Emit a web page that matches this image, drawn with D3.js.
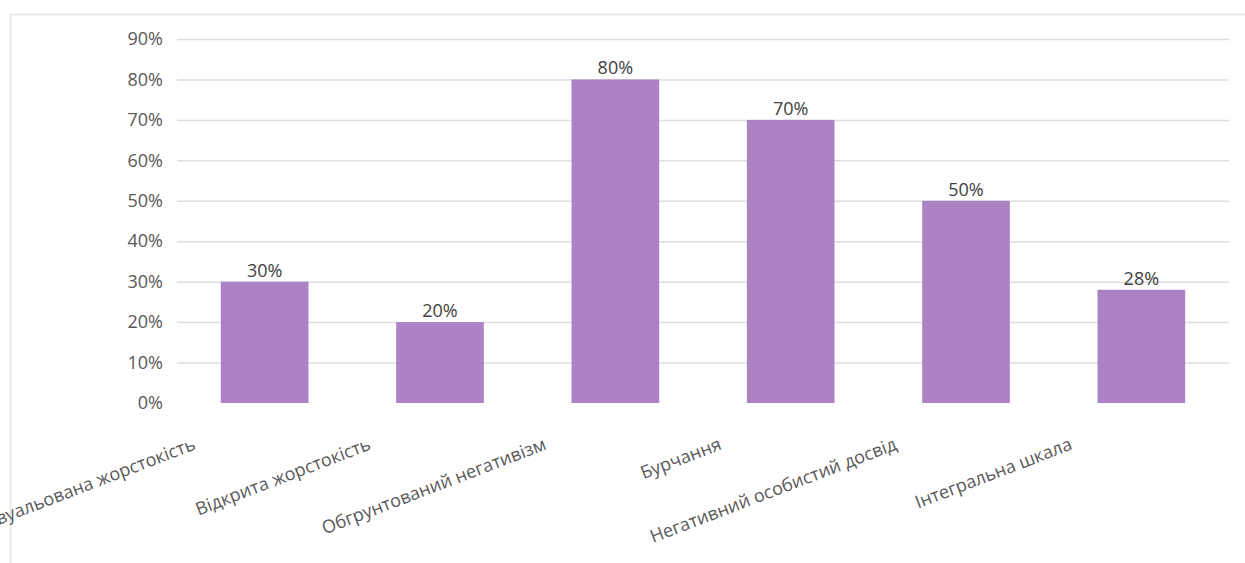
<!DOCTYPE html>
<html>
<head>
<meta charset="utf-8">
<script src="https://cdn.jsdelivr.net/npm/d3@7/dist/d3.min.js"></script>
<style>
  html, body { margin: 0; padding: 0; background: #ffffff; }
  svg { display: block; }
  text { font-family: "Open Sans", Lato, sans-serif; }
</style>
</head>
<body>
<div id="chart"></div>
<script>
// Scale categories and their shares
const categories = [
  "Завуальована жорстокість",
  "Відкрита жорстокість",
  "Обгрунтований негативізм",
  "Бурчання",
  "Негативний особистий досвід",
  "Інтегральна шкала"
];
const values = [30, 20, 80, 70, 50, 28];
const yTicks = [0, 10, 20, 30, 40, 50, 60, 70, 80, 90];

const W = 1245, H = 563;
const margin = { left: 177, right: 16, top: 39, bottom: 160 };
const fontSize = "18px";

const svg = d3.select("#chart").append("svg")
  .attr("width", W).attr("height", H);

// chart frame (left and top edges visible)
svg.append("path")
  .attr("d", `M10.5,${H} L10.5,14.5 L${W},14.5`)
  .attr("fill", "none")
  .attr("stroke", "#e3e3e3")
  .attr("stroke-width", 1.5);

const x = d3.scaleBand()
  .domain(categories)
  .range([margin.left, W - margin.right])
  .paddingInner(0.5)
  .paddingOuter(0.25);

const y = d3.scaleLinear()
  .domain([0, 90])
  .range([H - margin.bottom, margin.top]);

// horizontal gridlines + percentage tick labels
const yAxis = d3.axisLeft(y)
  .tickValues(yTicks)
  .tickSize(-(W - margin.right - margin.left))
  .tickPadding(14)
  .tickFormat(d => d + "%");

const gy = svg.append("g")
  .attr("transform", `translate(${margin.left},0)`)
  .call(yAxis);
gy.select(".domain").remove();
gy.selectAll(".tick line")
  .attr("stroke", "#dedede")
  .attr("stroke-width", 1.5)
  .attr("opacity", d => d === 0 ? 0 : 1);
gy.selectAll(".tick text")
  .attr("fill", "#595959")
  .style("font-size", fontSize)
  .style("font-family", "'Open Sans', Lato, sans-serif");

// bars
svg.append("g").selectAll("rect")
  .data(values)
  .join("rect")
  .attr("x", (d, i) => x(categories[i]))
  .attr("width", x.bandwidth())
  .attr("y", d => y(d))
  .attr("height", d => y(0) - y(d))
  .attr("fill", "#ab83c5");

// value labels above bars
svg.append("g").selectAll("text")
  .data(values)
  .join("text")
  .attr("x", (d, i) => x(categories[i]) + x.bandwidth() / 2)
  .attr("y", d => y(d) - 5)
  .attr("text-anchor", "middle")
  .attr("fill", "#404040")
  .style("font-size", fontSize)
  .text(d => d + "%");

// rotated category labels
svg.append("g").selectAll("text")
  .data(categories)
  .join("text")
  .attr("text-anchor", "end")
  .attr("transform", d => {
    const cx = x(d) + x.bandwidth() / 2 - 68;
    return `translate(${cx},449) rotate(-21)`;
  })
  .attr("fill", "#595959")
  .style("font-size", fontSize)
  .text(d => d);
</script>
</body>
</html>
